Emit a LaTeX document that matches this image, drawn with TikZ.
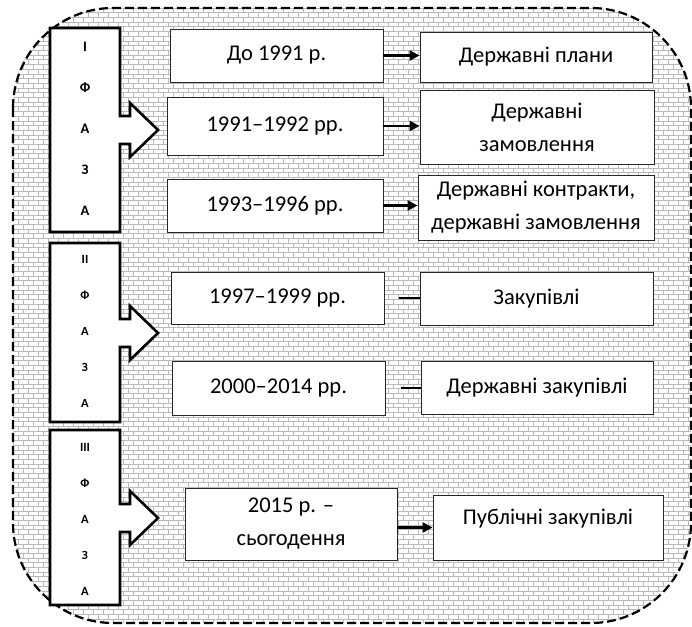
\documentclass[tikz,border=0pt]{standalone}
\usepackage{fontspec}
\setmainfont{Carlito}
\usetikzlibrary{arrows.meta}

\newcommand{\framepath}{(13,108) -- (13,523) .. controls (13,578) and (58,623) .. (113,623)
    -- (591,623) .. controls (646,623) and (691,578) .. (691,523)
    -- (691,108) .. controls (691,53) and (646,8) .. (591,8)
    -- (113,8) .. controls (58,8) and (13,53) .. (13,108) -- cycle}

\begin{document}
\begin{tikzpicture}[x=1pt,y=-1pt,
    brick/.style={draw=gray!55, line width=0.6pt},
    datebox/.style={draw=black!85, fill=white, line width=0.9pt, inner sep=0pt,
      align=center, font=\fontsize{22.5}{33}\selectfont},
    phaseletter/.style={font=\bfseries\fontsize{12.5}{14}\selectfont,
      text height=1.38ex, text depth=0pt, inner sep=0pt},
    phaseshape/.style={draw, fill=white, line width=2.6pt, line join=miter},
    conn/.style={line width=2.6pt, -{Triangle[length=10pt,width=10pt]}}]
    \useasboundingbox (0,0) rectangle (692,626);
    % background bricks
    \begin{scope}
        \clip \framepath;
        \foreach \y in {8,12.7,...,624} \draw[brick] (13,\y) -- (691,\y);
        \foreach \x in {13,23,...,691} \draw[brick, dash pattern=on 4.7pt off 4.7pt] (\x,8) -- (\x,623);
        \foreach \x in {18,28,...,691} \draw[brick, dash pattern=on 4.7pt off 4.7pt, dash phase=4.7pt] (\x,8) -- (\x,623);
    \end{scope}
    \draw[line width=2.2pt, dash pattern=on 9pt off 4pt] \framepath;
    % phases
    \foreach \t/\b/\m in {28/232/130, 243/422/333, 430/605/518}
        \draw[phaseshape] (50,\t) -- (120,\t) -- (120,{\m-14}) -- (130,{\m-14}) -- (130,{\m-27})
            -- (158,\m) -- (130,{\m+27}) -- (130,{\m+14}) -- (120,{\m+14}) -- (120,\b) -- (50,\b) -- cycle;
    \foreach \l [count=\i] in {I,Ф,А,З,А}
        \node[phaseletter, font=\bfseries\fontsize{14.5}{16}\selectfont] (fa\i) at (85,{130+(\i-3)*41}) {\l};
    \foreach \l [count=\i] in {II,Ф,А,З,А}
        \node[phaseletter] (fb\i) at (85,{332+(\i-3)*36}) {\l};
    \foreach \l [count=\i] in {III,Ф,А,З,А}
        \node[phaseletter] (fc\i) at (85,{520+(\i-3)*36}) {\l};
    % periods
    \node[datebox, minimum width=213pt, minimum height=53pt] (d1) at (276.5,55.5) {До 1991 р.};
    \node[datebox, minimum width=216pt, minimum height=58pt] (d2) at (275,126) {1991--1992 рр.};
    \node[datebox, minimum width=216pt, minimum height=53pt] (d3) at (275,205.5) {1993--1996 рр.};
    \node[datebox, minimum width=213pt, minimum height=52pt] (d4) at (277.5,298) {1997--1999 рр.};
    \node[datebox, minimum width=213pt, minimum height=54pt] (d5) at (278.5,388) {2000--2014 рр.};
    \node[datebox, minimum width=212pt, minimum height=72pt] (d6) at (291,524) {2015 р. --\\сьогодення};
    % forms
    \node[datebox, minimum width=232pt, minimum height=50pt] (r1) at (536,57) {Державні плани};
    \node[datebox, minimum width=234pt, minimum height=74pt] (r2) at (537,127) {Державні\\замовлення};
    \node[datebox, minimum width=236pt, minimum height=65pt] (r3) at (536,207.5) {Державні контракти,\\державні замовлення};
    \node[datebox, minimum width=233pt, minimum height=53pt] (r4) at (536.5,298.5) {Закупівлі};
    \node[datebox, minimum width=232pt, minimum height=53pt] (r5) at (537,387.5) {Державні закупівлі};
    \node[datebox, minimum width=230pt, minimum height=65pt, text depth=22pt] (r6) at (548,527.5) {Публічні закупівлі};
    % links
    \draw[conn] (d1.east) -- (d1.east -| r1.west);
    \draw[conn] (d2.east) -- (d2.east -| r2.west);
    \draw[conn] (d3.east) -- (d3.east -| r3.west);
    \draw[line width=2.6pt, shorten <=15pt] (d4.east) -- (d4.east -| r4.west);
    \draw[line width=2.6pt, shorten <=16pt] (d5.east) -- (d5.east -| r5.west);
    \draw[conn] (d6.east |- r6.west) -- (r6.west);
\end{tikzpicture}
\end{document}
